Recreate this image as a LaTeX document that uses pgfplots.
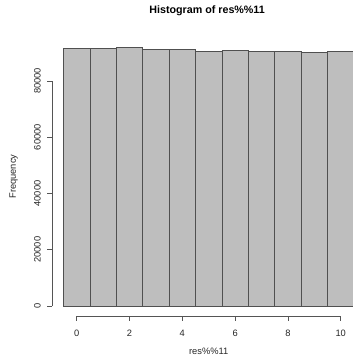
\documentclass[border=0pt]{standalone}
\usepackage{pgfplots}
\pgfplotsset{compat=1.18}
\usepackage{pgfplotstable}
\usepackage{fontspec}
\setmainfont{Liberation Sans}
\definecolor{barfill}{HTML}{BEBEBE}
\definecolor{bardraw}{HTML}{505050}
\definecolor{axcol}{HTML}{555555}
\pgfplotstableread{
x y
-0.5 91400
0.5 91650
1.5 92000
2.5 91290
3.5 91190
4.5 90480
5.5 90700
6.5 90340
7.5 90590
8.5 90230
9.5 90590
10.5 90590
}\hist
\begin{document}
\begin{tikzpicture}
\begin{axis}[
  scale only axis, width=313.6pt, height=279.7pt,
  xmin=-0.94, xmax=10.94, ymin=-3680, ymax=95680,
  clip=false,
  axis x line*=bottom, axis y line*=left,
  axis line style={draw=none},
  tick align=outside, major tick length=4.5pt,
  tick style={axcol, line width=0.6pt},
  xtick={0,2,4,6,8,10}, ytick={0,20000,40000,60000,80000},
  scaled y ticks=false,
  /pgf/number format/assume math mode=true,
  yticklabel shift=6.7pt,
  xticklabel shift=15.6pt,
  yticklabel style={/pgf/number format/fixed, /pgf/number format/1000 sep={}, rotate=90, anchor=base, font=\fontsize{9.3}{10}\selectfont, text=black!85},
  xticklabel style={anchor=base, font=\fontsize{9.3}{10}\selectfont, text=black!85},
  xlabel={res\%\%11},
  xlabel style={at={(axis description cs:0.5,-0.138)}, anchor=base, font=\fontsize{9.3}{10}\selectfont, text=black!85},
  ylabel={Frequency},
  ylabel style={at={(axis description cs:-0.1145,0.5)}, anchor=base, font=\fontsize{9.3}{10}\selectfont, text=black!85},
  title={Histogram of res\%\%11},
  title style={at={(axis description cs:0.495,1.0608)}, anchor=base, font=\bfseries\fontsize{10.7}{12}\selectfont},
]
\addplot[ybar interval, fill=barfill, draw=bardraw, line width=0.6pt] table {\hist};
\draw[axcol, line width=0.6pt] (axis cs:0,-3680) -- (axis cs:10,-3680);
\draw[axcol, line width=0.6pt] (axis cs:-0.94,0) -- (axis cs:-0.94,80000);
\coordinate (sw) at (axis description cs:0,0);
\coordinate (ne) at (axis description cs:1,1);
\end{axis}
\pgfresetboundingbox
\useasboundingbox ([shift={(-51.9pt,-45.6pt)}]sw) rectangle ([shift={(-13.5pt,36.7pt)}]ne);
\end{tikzpicture}
\end{document}
